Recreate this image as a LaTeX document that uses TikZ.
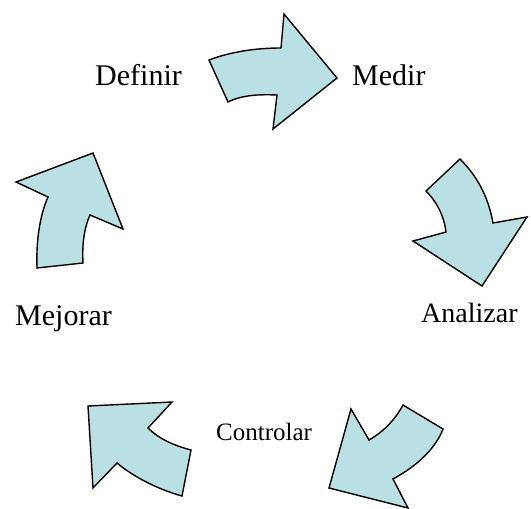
\documentclass[tikz,border=0pt]{standalone}
\usepackage{fontspec}
\setmainfont{Liberation Serif}
\definecolor{arrowfill}{RGB}{187,224,227}
\tikzset{
  bentarrow/.style={draw=black, line width=1.4pt, line join=miter, fill=arrowfill},
  phase/.style={anchor=base west, inner sep=0pt, text=black}
}
\begin{document}
\begin{tikzpicture}[x=1pt, y=-1pt]
\useasboundingbox (0,0) rectangle (531,509);

% Definir -> Medir
\path[bentarrow] (209,60) .. controls (230,52) and (255,48) .. (281,48)
  -- (284,14) -- (337,78) -- (273,129) -- (277,95)
  .. controls (255,94) and (240,96) .. (228,102) -- cycle;

% Medir -> Analizar
\path[bentarrow] (460,159) -- (426,191)
  .. controls (436,201) and (444,215) .. (446,232)
  -- (413,241) -- (482,286) -- (527,217) -- (493,223)
  .. controls (488,195) and (476,175) .. cycle;

% Analizar -> Controlar
\path[bentarrow] (443,429) -- (403,405)
  .. controls (395,420) and (383,432) .. (369,440)
  -- (351,409) -- (329,488) -- (408,508) -- (393,479)
  .. controls (415,467) and (435,450) .. cycle;

% Controlar -> Mejorar
\path[bentarrow] (182,496) -- (191,450)
  .. controls (172,445) and (158,438) .. (148,428)
  -- (172,402) -- (88,406) -- (93,488) -- (117,463)
  .. controls (135,478) and (160,490) .. cycle;

% Mejorar -> Definir
\path[bentarrow] (37,268) -- (83,263)
  .. controls (82,245) and (84,228) .. (90,215)
  -- (123,229) -- (93,153) -- (16,182) -- (48,197)
  .. controls (40,215) and (36,240) .. cycle;

% phase labels
\node[phase, font=\fontsize{30}{36}\selectfont] (definir) at (95,85) {Definir};
\node[phase, font=\fontsize{30}{36}\selectfont] (medir) at (352,85) {Medir};
\node[phase, font=\fontsize{28}{34}\selectfont] (analizar) at (421,322) {Analizar};
\node[phase, font=\fontsize{30}{36}\selectfont] (mejorar) at (15,325) {Mejorar};
\node[phase, font=\fontsize{25}{30}\selectfont] (controlar) at (216,440) {Controlar};
\end{tikzpicture}
\end{document}
